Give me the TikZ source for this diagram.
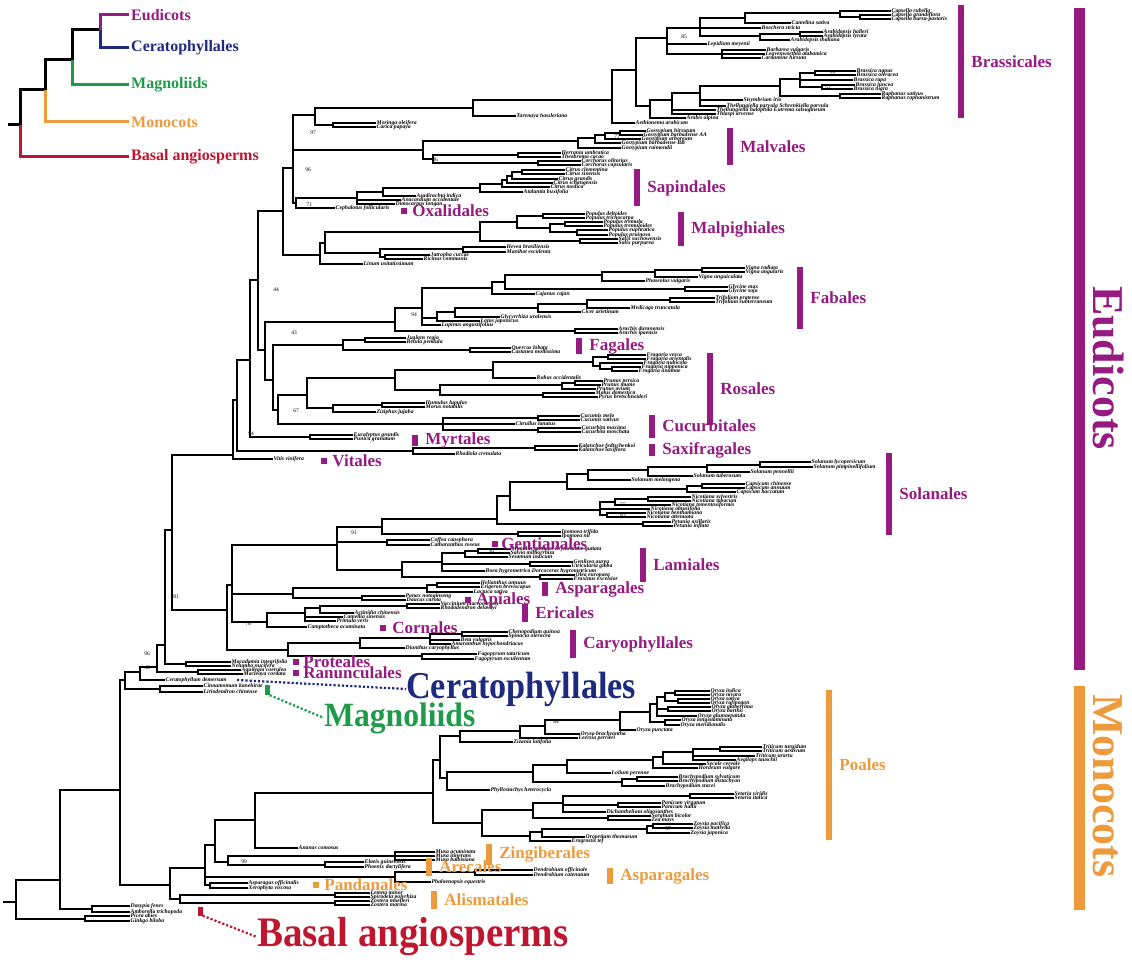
\documentclass[tikz,border=0pt]{standalone}
\usepackage{fontspec}
\setmainfont{Liberation Serif}
\usetikzlibrary{positioning}
\definecolor{phPurple}{HTML}{951B81}
\definecolor{phNavy}{HTML}{1D2A7D}
\definecolor{phGreen}{HTML}{1E9B48}
\definecolor{phOrange}{HTML}{EC9A3C}
\definecolor{phRed}{HTML}{C0152F}
\newcommand{\tipfont}{\fontsize{5.7}{6}\selectfont\bfseries\itshape}
\newcommand{\bsfont}{\fontsize{5.5}{6}\selectfont}
\tikzset{
  br/.style={draw=black, line width=1.1pt, line cap=rect},
  tip/.style={anchor=west, inner sep=1.5pt, font=\tipfont},
  bsv/.style={inner sep=0pt, font=\bsfont},
  mkE/.style={rectangle, fill=phPurple, inner sep=0pt, minimum width=6pt, minimum height=#1},
  mkM/.style={mkE=#1, fill=phOrange},
  ordE/.style={inner sep=0pt, text=phPurple, font=\fontsize{17}{17}\selectfont\bfseries},
  ordM/.style={ordE, text=phOrange},
  lgd/.style={line width=3pt},
  lgdtxt/.style={anchor=west, inner sep=2pt, font=\fontsize{16}{16}\selectfont\bfseries},
  bigtxt/.style={inner sep=0pt, anchor=west, font=\fontsize{38}{38}\selectfont\bfseries},
  dotcon/.style={line width=2.2pt, dotted},
}

\begin{document}
\begin{tikzpicture}[x=1pt, y=-1pt]
  \useasboundingbox (0,0) rectangle (1132,960);

  % legend
  \coordinate (lgR) at (8,125);
  \coordinate (lg1) at (20,125);
  \coordinate (lg2) at (45,90);
  \coordinate (lg3) at (72,60);
  \coordinate (lg4) at (100,30);
  \node[lgdtxt, text=phPurple] (lgEud) at (129,15) {Eudicots};
  \node[lgdtxt, text=phNavy] (lgCer) at (129,48) {Ceratophyllales};
  \node[lgdtxt, text=phGreen] (lgMag) at (129,85) {Magnoliids};
  \node[lgdtxt, text=phOrange] (lgMon) at (129,122) {Monocots};
  \node[lgdtxt, text=phRed] (lgBas) at (129,157) {Basal angiosperms};
  \draw[lgd] (lgR) -- (lg1) |- (lg2) |- (lg3) |- (lg4);
  \draw[lgd, phPurple] (lg4) |- (lgEud.west);
  \draw[lgd, phNavy] (lg4) |- (lgCer.west);
  \draw[lgd, phGreen] (lg3) |- (lgMag.west);
  \draw[lgd, phOrange] (lg2) |- (lgMon.west);
  \draw[lgd, phRed] (lg1) |- (lgBas.west);

  % Brassicales
  \node[tip] (tCapR) at (890,11) {Capsella rubella};
  \node[tip] (tCapG) at (890,15) {Capsella grandiflora};
  \node[tip] (tCapB) at (890,19) {Capsella bursa-pastoris};
  \node[tip] (tCame) at (790,23) {Camelina sativa};
  \node[tip] (tBoec) at (760,28) {Boechera stricta};
  \node[tip] (tArHa) at (822,32) {Arabidopsis halleri};
  \node[tip] (tArLy) at (822,36) {Arabidopsis lyrata};
  \node[tip] (tArTh) at (789,40) {Arabidopsis thaliana};
  \node[tip] (tLepi) at (706,44) {Lepidium meyenii};
  \node[tip] (tBarb) at (765,50) {Barbarea vulgaris};
  \node[tip] (tLeav) at (764,54) {Leavenworthia alabamica};
  \node[tip] (tCard) at (760,58) {Cardamine hirsuta};
  \node[tip] (tBnap) at (855,71) {Brassica napus};
  \node[tip] (tBole) at (855,75) {Brassica oleracea};
  \node[tip] (tBrap) at (852,80) {Brassica rapa};
  \node[tip] (tBjun) at (854,85) {Brassica juncea};
  \node[tip] (tBnig) at (852,89) {Brassica nigra};
  \node[tip] (tRsat) at (880,94) {Raphanus sativus};
  \node[tip] (tRrap) at (880,98) {Raphanus raphanistrum};
  \node[tip] (tSisy) at (742,100) {Sisymbrium irio};
  \node[tip] (tSchr) at (725,106) {Thellungiella parvula Schrenkiella parvula};
  \node[tip] (tEutr) at (715,110) {Thellungiella halophila Eutrema salsugineum};
  \node[tip] (tThla) at (715,114) {Thlaspi arvense};
  \node[tip] (tArab) at (685,118) {Arabis alpina};
  \node[tip] (tAeth) at (634,123) {Aethionema arabicum};
  \node[tip] (tTare) at (515,116) {Tarenaya hassleriana};
  \node[tip] (tMori) at (375,123) {Moringa oleifera};
  \node[tip] (tCari) at (375,127) {Carica papaya};
  \coordinate (Cap2) at (860,17);
  \coordinate (Cap1) at (840,13);
  \coordinate (Cm2) at (745,18);
  \coordinate (ArHL) at (800,34);
  \coordinate (ArabN) at (760,36);
  \coordinate (Cm1) at (700,28);
  \coordinate (BarbN) at (722,54);
  \coordinate (Up1) at (667,38);
  \coordinate (Bs1) at (815,73);
  \coordinate (Bs2) at (822,87);
  \coordinate (BsA) at (800,79);
  \coordinate (RaphN) at (840,96);
  \coordinate (BrN) at (780,86);
  \coordinate (Low3) at (700,93);
  \coordinate (Low2) at (672,100);
  \coordinate (Low1) at (650,106);
  \coordinate (B636) at (636,70);
  \coordinate (BrassN) at (612,100);
  \coordinate (BrCl) at (473,108);
  \coordinate (MCN) at (333,125);
  \coordinate (BM) at (315,115);
  \draw[br] (Cap2) |- (tCapG) (Cap2) |- (tCapB);
  \draw[br] (Cap1) |- (tCapR) (Cap1) |- (Cap2);
  \draw[br] (Cm2) |- (Cap1) (Cm2) |- (tCame);
  \draw[br] (ArHL) |- (tArHa) (ArHL) |- (tArLy);
  \draw[br] (ArabN) |- (ArHL) (ArabN) |- (tArTh);
  \draw[br] (Cm1) |- (Cm2) (Cm1) |- (tBoec) (Cm1) |- (ArabN);
  \draw[br] (BarbN) |- (tBarb) (BarbN) |- (tLeav) (BarbN) |- (tCard);
  \draw[br] (Up1) |- (Cm1) (Up1) |- (tLepi) (Up1) |- (BarbN);
  \draw[br] (Bs1) |- (tBnap) (Bs1) |- (tBole);
  \draw[br] (Bs2) |- (tBjun) (Bs2) |- (tBnig);
  \draw[br] (BsA) |- (Bs1) (BsA) |- (tBrap) (BsA) |- (Bs2);
  \draw[br] (RaphN) |- (tRsat) (RaphN) |- (tRrap);
  \draw[br] (BrN) |- (BsA) (BrN) |- (RaphN);
  \draw[br] (Low3) |- (BrN) (Low3) |- (tSisy) (Low3) |- (tSchr);
  \draw[br] (Low2) |- (Low3) (Low2) |- (tEutr) (Low2) |- (tThla);
  \draw[br] (Low1) |- (Low2) (Low1) |- (tArab);
  \draw[br] (B636) |- (Up1) (B636) |- (Low1);
  \draw[br] (BrassN) |- (B636) (BrassN) |- (tAeth);
  \draw[br] (BrCl) |- (BrassN) (BrCl) |- (tTare);
  \draw[br] (MCN) |- (tMori) (MCN) |- (tCari);
  \draw[br] (BM) |- (BrCl) (BM) |- (MCN);

  % Malvales
  \node[tip] (tGhir) at (645,131) {Gossypium hirsutum};
  \node[tip] (tGbAA) at (642,135) {Gossypium barbadense AA};
  \node[tip] (tGarb) at (640,139) {Gossypium arboreum};
  \node[tip] (tGbBB) at (620,143) {Gossypium barbadense BB};
  \node[tip] (tGrai) at (620,148) {Gossypium raimondii};
  \node[tip] (tHerr) at (560,153) {Herrania umbratica};
  \node[tip] (tTheo) at (560,157) {Theobroma cacao};
  \node[tip] (tColi) at (580,161) {Corchorus olitorius};
  \node[tip] (tCcap) at (580,165) {Corchorus capsularis};
  \coordinate (G3) at (620,133);
  \coordinate (G2) at (605,135);
  \coordinate (G1) at (595,138);
  \coordinate (GossN) at (578,141);
  \coordinate (HTN) at (518,155);
  \coordinate (CorN) at (538,163);
  \coordinate (HC) at (433,159);
  \coordinate (MalvN) at (423,150);
  \draw[br] (G3) |- (tGhir) (G3) |- (tGbAA);
  \draw[br] (G2) |- (G3) (G2) |- (tGarb);
  \draw[br] (G1) |- (G2) (G1) |- (tGbBB);
  \draw[br] (GossN) |- (G1) (GossN) |- (tGrai);
  \draw[br] (HTN) |- (tHerr) (HTN) |- (tTheo);
  \draw[br] (CorN) |- (tColi) (CorN) |- (tCcap);
  \draw[br] (HC) |- (HTN) (HC) |- (CorN);
  \draw[br] (MalvN) |- (GossN) (MalvN) |- (HC);

  % Sapindales, Oxalidales
  \node[tip] (tCcle) at (564,170) {Citrus clementina};
  \node[tip] (tCsin) at (564,174) {Citrus sinensis};
  \node[tip] (tCgra) at (557,179) {Citrus grandis};
  \node[tip] (tCich) at (552,183) {Citrus ichangensis};
  \node[tip] (tCmed) at (549,187) {Citrus medica};
  \node[tip] (tAtal) at (522,192) {Atalantia buxifolia};
  \node[tip] (tAzad) at (415,196) {Azadirachta indica};
  \node[tip] (tAnac) at (400,200) {Anacardium occidentale};
  \node[tip] (tDimo) at (394,204) {Dimocarpus longan};
  \node[tip] (tCeph) at (334,208) {Cephalotus follicularis};
  \coordinate (Ci1) at (522,172);
  \coordinate (Ci2) at (512,176);
  \coordinate (Ci3) at (507,180);
  \coordinate (Ci4) at (502,184);
  \coordinate (CitN) at (480,188);
  \coordinate (S1) at (383,192);
  \coordinate (SapN) at (357,198);
  \coordinate (SapOx) at (296,203);
  \coordinate (MalvidN) at (293,168);
  \draw[br] (Ci1) |- (tCcle) (Ci1) |- (tCsin);
  \draw[br] (Ci2) |- (Ci1) (Ci2) |- (tCgra);
  \draw[br] (Ci3) |- (Ci2) (Ci3) |- (tCich);
  \draw[br] (Ci4) |- (Ci3) (Ci4) |- (tCmed);
  \draw[br] (CitN) |- (Ci4) (CitN) |- (tAtal);
  \draw[br] (S1) |- (CitN) (S1) |- (tAzad);
  \draw[br] (SapN) |- (S1) (SapN) |- (tAnac) (SapN) |- (tDimo);
  \draw[br] (SapOx) |- (SapN) (SapOx) |- (tCeph);
  \draw[br] (MalvidN) |- (BM) (MalvidN) |- (MalvN) (MalvidN) |- (SapOx);

  % Malpighiales
  \node[tip] (tPdel) at (584,214) {Populus deltoides};
  \node[tip] (tPtri) at (584,218) {Populus trichocarpa};
  \node[tip] (tPtre) at (602,222) {Populus tremula};
  \node[tip] (tPtrd) at (602,226) {Populus tremuloides};
  \node[tip] (tPeup) at (607,230) {Populus euphratica};
  \node[tip] (tPpru) at (607,235) {Populus pruinosa};
  \node[tip] (tSsuc) at (617,239) {Salix suchowensis};
  \node[tip] (tSpur) at (617,243) {Salix purpurea};
  \node[tip] (tHeve) at (505,247) {Hevea brasiliensis};
  \node[tip] (tMani) at (505,252) {Manihot esculenta};
  \node[tip] (tJatr) at (429,255) {Jatropha curcas};
  \node[tip] (tRici) at (422,259) {Ricinus communis};
  \node[tip] (tLinu) at (362,264) {Linum usitatissimum};
  \coordinate (P1) at (543,216);
  \coordinate (P2) at (565,224);
  \coordinate (P3) at (577,232);
  \coordinate (Pa) at (550,228);
  \coordinate (PopN) at (517,222);
  \coordinate (SalixN) at (580,241);
  \coordinate (SalicN) at (480,232);
  \coordinate (HMN) at (463,249);
  \coordinate (JRN) at (385,257);
  \coordinate (EuphN) at (380,253);
  \coordinate (Mp1) at (325,243);
  \coordinate (MalpN) at (320,255);
  \coordinate (RosidA) at (283,211);
  \draw[br] (P1) |- (tPdel) (P1) |- (tPtri);
  \draw[br] (P2) |- (tPtre) (P2) |- (tPtrd);
  \draw[br] (P3) |- (tPeup) (P3) |- (tPpru);
  \draw[br] (Pa) |- (P2) (Pa) |- (P3);
  \draw[br] (PopN) |- (P1) (PopN) |- (Pa);
  \draw[br] (SalixN) |- (tSsuc) (SalixN) |- (tSpur);
  \draw[br] (SalicN) |- (PopN) (SalicN) |- (SalixN);
  \draw[br] (HMN) |- (tHeve) (HMN) |- (tMani);
  \draw[br] (JRN) |- (tJatr) (JRN) |- (tRici);
  \draw[br] (EuphN) |- (HMN) (EuphN) |- (JRN);
  \draw[br] (Mp1) |- (SalicN) (Mp1) |- (EuphN);
  \draw[br] (MalpN) |- (Mp1) (MalpN) |- (tLinu);
  \draw[br] (RosidA) |- (MalvidN) (RosidA) |- (MalpN);

  % Fabales
  \node[tip] (tVrad) at (744,268) {Vigna radiata};
  \node[tip] (tVang) at (744,272) {Vigna angularis};
  \node[tip] (tVung) at (697,277) {Vigna unguiculata};
  \node[tip] (tPhas) at (644,281) {Phaseolus vulgaris};
  \node[tip] (tGmax) at (727,287) {Glycine max};
  \node[tip] (tGsoj) at (727,291) {Glycine soja};
  \node[tip] (tCaja) at (534,294) {Cajanus cajan};
  \node[tip] (tTpra) at (714,298) {Trifolium pratense};
  \node[tip] (tTsub) at (714,302) {Trifolium subterraneum};
  \node[tip] (tMedi) at (629,308) {Medicago truncatula};
  \node[tip] (tCice) at (580,312) {Cicer arietinum};
  \node[tip] (tGlyc) at (499,317) {Glycyrrhiza uralensis};
  \node[tip] (tLotu) at (479,321) {Lotus japonicus};
  \node[tip] (tLupi) at (440,325) {Lupinus angustifolius};
  \node[tip] (tAdur) at (617,329) {Arachis duranensis};
  \node[tip] (tAipa) at (617,333) {Arachis ipaensis};
  \coordinate (VrVaN) at (702,270);
  \coordinate (VignaN) at (655,272);
  \coordinate (PhN) at (602,275);
  \coordinate (GlyN) at (685,289);
  \coordinate (Fa7) at (505,282);
  \coordinate (Fa2) at (492,288);
  \coordinate (TrifN) at (670,300);
  \coordinate (Fa6) at (587,304);
  \coordinate (Fa5) at (538,308);
  \coordinate (Fa4) at (455,312);
  \coordinate (Fa3) at (437,318);
  \coordinate (Fa1) at (422,308);
  \coordinate (ArachN) at (575,331);
  \coordinate (FabN) at (395,322);
  \draw[br] (VrVaN) |- (tVrad) (VrVaN) |- (tVang);
  \draw[br] (VignaN) |- (VrVaN) (VignaN) |- (tVung);
  \draw[br] (PhN) |- (VignaN) (PhN) |- (tPhas);
  \draw[br] (GlyN) |- (tGmax) (GlyN) |- (tGsoj);
  \draw[br] (Fa7) |- (PhN) (Fa7) |- (GlyN);
  \draw[br] (Fa2) |- (Fa7) (Fa2) |- (tCaja);
  \draw[br] (TrifN) |- (tTpra) (TrifN) |- (tTsub);
  \draw[br] (Fa6) |- (TrifN) (Fa6) |- (tMedi);
  \draw[br] (Fa5) |- (Fa6) (Fa5) |- (tCice);
  \draw[br] (Fa4) |- (Fa5) (Fa4) |- (tGlyc);
  \draw[br] (Fa3) |- (Fa4) (Fa3) |- (tLotu);
  \draw[br] (Fa1) |- (Fa2) (Fa1) |- (Fa3) (Fa1) |- (tLupi);
  \draw[br] (ArachN) |- (tAdur) (ArachN) |- (tAipa);
  \draw[br] (FabN) |- (Fa1) (FabN) |- (ArachN);

  % Fagales, Rosales, Cucurbitales
  \node[tip] (tJugl) at (405,338) {Juglans regia};
  \node[tip] (tBetu) at (405,342) {Betula pendula};
  \node[tip] (tQuer) at (510,348) {Quercus lobata};
  \node[tip] (tCast) at (510,352) {Castanea mollissima};
  \node[tip] (tFves) at (645,355) {Fragaria vesca};
  \node[tip] (tFori) at (645,359) {Fragaria orientalis};
  \node[tip] (tFnub) at (642,363) {Fragaria nubicola};
  \node[tip] (tFnip) at (640,367) {Fragaria nipponica};
  \node[tip] (tFiin) at (637,371) {Fragaria iinumae};
  \node[tip] (tRubu) at (535,378) {Rubus occidentalis};
  \node[tip] (tPper) at (602,381) {Prunus persica};
  \node[tip] (tPmum) at (600,385) {Prunus mume};
  \node[tip] (tPavi) at (595,389) {Prunus avium};
  \node[tip] (tMalu) at (594,393) {Malus domestica};
  \node[tip] (tPyru) at (597,397) {Pyrus bretschneideri};
  \node[tip] (tHumu) at (424,403) {Humulus lupulus};
  \node[tip] (tMoru) at (424,407) {Morus notabilis};
  \node[tip] (tZizi) at (375,412) {Ziziphus jujuba};
  \node[tip] (tCmel) at (579,416) {Cucumis melo};
  \node[tip] (tCsat) at (579,420) {Cucumis sativus};
  \node[tip] (tCitr) at (514,424) {Citrullus lanatus};
  \node[tip] (tCmax) at (580,428) {Cucurbita maxima};
  \node[tip] (tCmos) at (580,432) {Cucurbita moschata};
  \coordinate (JBN) at (365,340);
  \coordinate (QCN) at (470,350);
  \coordinate (FagN) at (343,345);
  \coordinate (Fr1) at (608,357);
  \coordinate (Fr2) at (612,369);
  \coordinate (Fr3) at (600,366);
  \coordinate (FragN) at (593,362);
  \coordinate (Ro2) at (493,370);
  \coordinate (PrA) at (575,383);
  \coordinate (PrunN) at (562,385);
  \coordinate (MPN) at (543,395);
  \coordinate (Ro3) at (440,390);
  \coordinate (Ro1) at (395,378);
  \coordinate (HMoN) at (382,405);
  \coordinate (Ro4) at (333,408);
  \coordinate (RosN) at (307,395);
  \coordinate (CmN) at (538,418);
  \coordinate (CbN) at (538,430);
  \coordinate (CucurbN) at (443,424);
  \draw[br] (JBN) |- (tJugl) (JBN) |- (tBetu);
  \draw[br] (QCN) |- (tQuer) (QCN) |- (tCast);
  \draw[br] (FagN) |- (JBN) (FagN) |- (QCN);
  \draw[br] (Fr1) |- (tFves) (Fr1) |- (tFori);
  \draw[br] (Fr2) |- (tFnip) (Fr2) |- (tFiin);
  \draw[br] (Fr3) |- (tFnub) (Fr3) |- (Fr2);
  \draw[br] (FragN) |- (Fr1) (FragN) |- (Fr3);
  \draw[br] (Ro2) |- (FragN) (Ro2) |- (tRubu);
  \draw[br] (PrA) |- (tPper) (PrA) |- (tPmum);
  \draw[br] (PrunN) |- (PrA) (PrunN) |- (tPavi);
  \draw[br] (MPN) |- (tMalu) (MPN) |- (tPyru);
  \draw[br] (Ro3) |- (PrunN) (Ro3) |- (MPN);
  \draw[br] (Ro1) |- (Ro2) (Ro1) |- (Ro3);
  \draw[br] (HMoN) |- (tHumu) (HMoN) |- (tMoru);
  \draw[br] (Ro4) |- (HMoN) (Ro4) |- (tZizi);
  \draw[br] (RosN) |- (Ro1) (RosN) |- (Ro4);
  \draw[br] (CmN) |- (tCmel) (CmN) |- (tCsat);
  \draw[br] (CbN) |- (tCmax) (CbN) |- (tCmos);
  \draw[br] (CucurbN) |- (CmN) (CucurbN) |- (tCitr) (CucurbN) |- (CbN);

  % rosid backbone, Myrtales, Saxifragales, Vitales
  \node[tip] (tEuca) at (352,435) {Eucalyptus grandis};
  \node[tip] (tPuni) at (352,439) {Punica granatum};
  \node[tip] (tKfed) at (577,446) {Kalanchoe fedtschenkoi};
  \node[tip] (tKlax) at (577,450) {Kalanchoe laxiflora};
  \node[tip] (tRhod) at (454,454) {Rhodiola crenulata};
  \node[tip] (tViti) at (272,459) {Vitis vinifera};
  \coordinate (F1) at (278,410);
  \coordinate (F2) at (273,380);
  \coordinate (F3) at (265,350);
  \coordinate (R1) at (258,280);
  \coordinate (MyrtN) at (310,437);
  \coordinate (R2) at (250,360);
  \coordinate (KalN) at (535,448);
  \coordinate (SaxN) at (413,451);
  \coordinate (R3) at (237,400);
  \coordinate (RosV) at (233,455);
  \draw[br] (F1) |- (RosN) (F1) |- (CucurbN);
  \draw[br] (F2) |- (FagN) (F2) |- (F1);
  \draw[br] (F3) |- (FabN) (F3) |- (F2);
  \draw[br] (R1) |- (RosidA) (R1) |- (F3);
  \draw[br] (MyrtN) |- (tEuca) (MyrtN) |- (tPuni);
  \draw[br] (R2) |- (R1) (R2) |- (MyrtN);
  \draw[br] (KalN) |- (tKfed) (KalN) |- (tKlax);
  \draw[br] (SaxN) |- (KalN) (SaxN) |- (tRhod);
  \draw[br] (R3) |- (R2) (R3) |- (SaxN);
  \draw[br] (RosV) |- (R3) (RosV) |- (tViti);

  % Solanales
  \node[tip] (tSlyc) at (810,462) {Solanum lycopersicum};
  \node[tip] (tSpim) at (812,467) {Solanum pimpinellifolium};
  \node[tip] (tSpen) at (749,472) {Solanum pennellii};
  \node[tip] (tStub) at (692,476) {Solanum tuberosum};
  \node[tip] (tSmel) at (630,480) {Solanum melongena};
  \node[tip] (tCchi) at (744,484) {Capsicum chinense};
  \node[tip] (tCann) at (744,488) {Capsicum annuum};
  \node[tip] (tCbac) at (735,492) {Capsicum baccatum};
  \node[tip] (tNsyl) at (690,497) {Nicotiana sylvestris};
  \node[tip] (tNtab) at (690,501) {Nicotiana tabacum};
  \node[tip] (tNtom) at (670,505) {Nicotiana tomentosiformis};
  \node[tip] (tNobt) at (649,509) {Nicotiana obtusifolia};
  \node[tip] (tNben) at (645,513) {Nicotiana benthamiana};
  \node[tip] (tNatt) at (645,517) {Nicotiana attenuata};
  \node[tip] (tPaxi) at (670,522) {Petunia axillaris};
  \node[tip] (tPinf) at (672,526) {Petunia inflata};
  \node[tip] (tItri) at (560,532) {Ipomoea trifida};
  \node[tip] (tInil) at (560,536) {Ipomoea nil};
  \coordinate (Sd) at (760,465);
  \coordinate (Sc) at (707,467);
  \coordinate (Sb) at (648,470);
  \coordinate (Sa) at (588,474);
  \coordinate (CapA) at (702,486);
  \coordinate (CapN) at (687,489);
  \coordinate (SolB) at (567,482);
  \coordinate (Nc3) at (648,499);
  \coordinate (Nc1) at (615,502);
  \coordinate (Nc2) at (607,515);
  \coordinate (NicN) at (600,510);
  \coordinate (SolA) at (510,496);
  \coordinate (PetN) at (643,524);
  \coordinate (SolRoot) at (497,519);
  \coordinate (IpoN) at (518,534);
  \coordinate (SolanN) at (382,527);
  \draw[br] (Sd) |- (tSlyc) (Sd) |- (tSpim);
  \draw[br] (Sc) |- (Sd) (Sc) |- (tSpen);
  \draw[br] (Sb) |- (Sc) (Sb) |- (tStub);
  \draw[br] (Sa) |- (Sb) (Sa) |- (tSmel);
  \draw[br] (CapA) |- (tCchi) (CapA) |- (tCann);
  \draw[br] (CapN) |- (CapA) (CapN) |- (tCbac);
  \draw[br] (SolB) |- (Sa) (SolB) |- (CapN);
  \draw[br] (Nc3) |- (tNsyl) (Nc3) |- (tNtab);
  \draw[br] (Nc1) |- (Nc3) (Nc1) |- (tNtom);
  \draw[br] (Nc2) |- (tNben) (Nc2) |- (tNatt);
  \draw[br] (NicN) |- (Nc1) (NicN) |- (tNobt) (NicN) |- (Nc2);
  \draw[br] (SolA) |- (SolB) (SolA) |- (NicN);
  \draw[br] (PetN) |- (tPaxi) (PetN) |- (tPinf);
  \draw[br] (SolRoot) |- (SolA) (SolRoot) |- (PetN);
  \draw[br] (IpoN) |- (tItri) (IpoN) |- (tInil);
  \draw[br] (SolanN) |- (SolRoot) (SolanN) |- (IpoN);

  % Gentianales, Lamiales
  \node[tip] (tCoff) at (429,540) {Coffea canephora};
  \node[tip] (tCath) at (429,545) {Catharanthus roseus};
  \node[tip] (tMimu) at (510,549) {Mimulus guttatus Erythranthe guttata};
  \node[tip] (tSalv) at (509,553) {Salvia miltiorrhiza};
  \node[tip] (tSesa) at (507,557) {Sesamum indicum};
  \node[tip] (tGenl) at (572,562) {Genlisea aurea};
  \node[tip] (tUtri) at (570,566) {Utricularia gibba};
  \node[tip] (tBoea) at (484,571) {Boea hygrometrica Dorcoceras hygrometricum};
  \node[tip] (tOlea) at (574,575) {Olea europaea};
  \node[tip] (tFrax) at (572,579) {Fraxinus excelsior};
  \coordinate (GentN) at (387,542);
  \coordinate (La3) at (478,551);
  \coordinate (La2) at (465,553);
  \coordinate (LenN) at (530,564);
  \coordinate (La1) at (442,562);
  \coordinate (OleaN) at (540,577);
  \coordinate (LamN) at (402,570);
  \coordinate (LamiN) at (337,545);
  \draw[br] (GentN) |- (tCoff) (GentN) |- (tCath);
  \draw[br] (La3) |- (tMimu) (La3) |- (tSalv);
  \draw[br] (La2) |- (La3) (La2) |- (tSesa);
  \draw[br] (LenN) |- (tGenl) (LenN) |- (tUtri);
  \draw[br] (La1) |- (La2) (La1) |- (LenN) (La1) |- (tBoea);
  \draw[br] (OleaN) |- (tOlea) (OleaN) |- (tFrax);
  \draw[br] (LamN) |- (La1) (LamN) |- (OleaN);
  \draw[br] (LamiN) |- (SolanN) (LamiN) |- (GentN) (LamiN) |- (LamN);

  % campanulids, Ericales, Cornales, Caryophyllales
  \node[tip] (tHeli) at (479,583) {Helianthus annuus};
  \node[tip] (tErig) at (479,587) {Erigeron breviscapus};
  \node[tip] (tLact) at (472,592) {Lactuca sativa};
  \node[tip] (tPana) at (404,596) {Panax notoginseng};
  \node[tip] (tDauc) at (405,600) {Daucus carota};
  \node[tip] (tVacc) at (439,604) {Vaccinium macrocarpon};
  \node[tip] (tRhdo) at (439,608) {Rhododendron delavayi};
  \node[tip] (tActi) at (353,613) {Actinidia chinensis};
  \node[tip] (tCaml) at (342,617) {Camellia sinensis};
  \node[tip] (tPrim) at (335,621) {Primula veris};
  \node[tip] (tCamp) at (306,627) {Camptotheca acuminata};
  \node[tip] (tChen) at (507,632) {Chenopodium quinoa};
  \node[tip] (tSpin) at (507,636) {Spinacia oleracea};
  \node[tip] (tBeta) at (459,640) {Beta vulgaris};
  \node[tip] (tAmar) at (450,644) {Amaranthus hypochondriacus};
  \node[tip] (tDian) at (404,648) {Dianthus caryophyllus};
  \node[tip] (tFtat) at (476,654) {Fagopyrum tataricum};
  \node[tip] (tFesc) at (473,659) {Fagopyrum esculentum};
  \coordinate (HEN) at (437,585);
  \coordinate (AstN2) at (427,588);
  \coordinate (ApiN) at (362,598);
  \coordinate (CampN) at (293,594);
  \coordinate (VRN) at (407,606);
  \coordinate (Er2) at (320,608);
  \coordinate (Er1) at (305,613);
  \coordinate (CEN) at (267,622);
  \coordinate (AstN) at (232,585);
  \coordinate (ChSpN) at (462,634);
  \coordinate (Ca2) at (430,638);
  \coordinate (Ca1) at (360,643);
  \coordinate (FagoN) at (422,656);
  \coordinate (CaryN) at (288,650);
  \coordinate (SupAst) at (227,610);
  \draw[br] (HEN) |- (tHeli) (HEN) |- (tErig);
  \draw[br] (AstN2) |- (HEN) (AstN2) |- (tLact);
  \draw[br] (ApiN) |- (tPana) (ApiN) |- (tDauc);
  \draw[br] (CampN) |- (AstN2) (CampN) |- (ApiN);
  \draw[br] (VRN) |- (tVacc) (VRN) |- (tRhdo);
  \draw[br] (Er2) |- (VRN) (Er2) |- (tActi);
  \draw[br] (Er1) |- (Er2) (Er1) |- (tCaml) (Er1) |- (tPrim);
  \draw[br] (CEN) |- (Er1) (CEN) |- (tCamp);
  \draw[br] (AstN) |- (LamiN) (AstN) |- (CampN) (AstN) |- (CEN);
  \draw[br] (ChSpN) |- (tChen) (ChSpN) |- (tSpin);
  \draw[br] (Ca2) |- (ChSpN) (Ca2) |- (tBeta) (Ca2) |- (tAmar);
  \draw[br] (Ca1) |- (Ca2) (Ca1) |- (tDian);
  \draw[br] (FagoN) |- (tFtat) (FagoN) |- (tFesc);
  \draw[br] (CaryN) |- (Ca1) (CaryN) |- (FagoN);
  \draw[br] (SupAst) |- (AstN) (SupAst) |- (CaryN);

  % early eudicots, Ceratophyllum, magnoliids
  \node[tip] (tMaca) at (230,662) {Macadamia integrifolia};
  \node[tip] (tNelu) at (230,666) {Nelumbo nucifera};
  \node[tip] (tAqui) at (240,670) {Aquilegia coerulea};
  \node[tip] (tMacl) at (242,674) {Macleaya cordata};
  \node[tip] (tCera) at (164,680) {Ceratophyllum demersum};
  \node[tip] (tCinn) at (202,686) {Cinnamomum kanehirae};
  \node[tip] (tLiri) at (202,692) {Liriodendron chinense};
  \coordinate (CoreE) at (172,530);
  \coordinate (ProtN) at (186,664);
  \coordinate (E2) at (165,645);
  \coordinate (RanN) at (198,672);
  \coordinate (EudN) at (157,667);
  \coordinate (EudCer) at (140,672);
  \coordinate (MagN) at (160,689);
  \coordinate (EM) at (125,680);
  \draw[br] (CoreE) |- (RosV) (CoreE) |- (SupAst);
  \draw[br] (ProtN) |- (tMaca) (ProtN) |- (tNelu);
  \draw[br] (E2) |- (CoreE) (E2) |- (ProtN);
  \draw[br] (RanN) |- (tAqui) (RanN) |- (tMacl);
  \draw[br] (EudN) |- (E2) (EudN) |- (RanN);
  \draw[br] (EudCer) |- (EudN) (EudCer) |- (tCera);
  \draw[br] (MagN) |- (tCinn) (MagN) |- (tLiri);
  \draw[br] (EM) |- (EudCer) (EM) |- (MagN);

  % Poales
  \node[tip] (tOind) at (709,691) {Oryza indica};
  \node[tip] (tOniv) at (709,695) {Oryza nivara};
  \node[tip] (tOsat) at (709,699) {Oryza sativa};
  \node[tip] (tOruf) at (709,703) {Oryza rufipogon};
  \node[tip] (tOgla) at (710,707) {Oryza glaberrima};
  \node[tip] (tObar) at (710,711) {Oryza barthii};
  \node[tip] (tOglu) at (696,716) {Oryza glumaepatula};
  \node[tip] (tOlon) at (680,720) {Oryza longistaminata};
  \node[tip] (tOmer) at (679,725) {Oryza meridionalis};
  \node[tip] (tOpun) at (635,730) {Oryza punctata};
  \node[tip] (tObra) at (579,734) {Oryza brachyantha};
  \node[tip] (tLeer) at (577,738) {Leersia perrieri};
  \node[tip] (tZiza) at (512,742) {Zizania latifolia};
  \node[tip] (tTtur) at (761,747) {Triticum turgidum};
  \node[tip] (tTaes) at (761,751) {Triticum aestivum};
  \node[tip] (tTura) at (754,756) {Triticum urartu};
  \node[tip] (tAegi) at (735,760) {Aegilops tauschii};
  \node[tip] (tSeca) at (705,764) {Secale cereale};
  \node[tip] (tHord) at (697,768) {Hordeum vulgare};
  \node[tip] (tLoli) at (610,773) {Lolium perenne};
  \node[tip] (tBsyl) at (677,777) {Brachypodium sylvaticum};
  \node[tip] (tBdis) at (677,781) {Brachypodium distachyon};
  \node[tip] (tBsta) at (664,786) {Brachypodium stacei};
  \node[tip] (tPhyl) at (489,790) {Phyllostachys heterocycla};
  \node[tip] (tSvir) at (733,794) {Setaria viridis};
  \node[tip] (tSita) at (733,798) {Setaria italica};
  \node[tip] (tPvir) at (660,803) {Panicum virgatum};
  \node[tip] (tPhal) at (660,807) {Panicum hallii};
  \node[tip] (tDich) at (605,812) {Dichanthelium oligosanthes};
  \node[tip] (tSbic) at (650,816) {Sorghum bicolor};
  \node[tip] (tZmay) at (650,820) {Zea mays};
  \node[tip] (tZpac) at (692,824) {Zoysia pacifica};
  \node[tip] (tZmat) at (692,828) {Zoysia matrella};
  \node[tip] (tZjap) at (689,833) {Zoysia japonica};
  \node[tip] (tOrop) at (584,837) {Oropetium thomaeum};
  \node[tip] (tErag) at (570,841) {Eragrostis tef};
  \node[tip] (tAnan) at (297,848) {Ananas comosus};
  \coordinate (Or1a) at (675,693);
  \coordinate (Or1b) at (678,701);
  \coordinate (Or1) at (665,697);
  \coordinate (Or2) at (668,709);
  \coordinate (Or3) at (657,704);
  \coordinate (Or45) at (665,722);
  \coordinate (Or4) at (650,712);
  \coordinate (Or5) at (620,720);
  \coordinate (Or6) at (545,726);
  \coordinate (Oz2) at (520,731);
  \coordinate (OzN) at (460,736);
  \coordinate (Tr3) at (720,749);
  \coordinate (Tr2) at (693,752);
  \coordinate (Tr1) at (663,757);
  \coordinate (TrN) at (653,760);
  \coordinate (Po1) at (567,765);
  \coordinate (Bra1) at (637,779);
  \coordinate (BrachyN) at (622,782);
  \coordinate (PooN) at (533,772);
  \coordinate (PBN) at (447,778);
  \coordinate (BOPN) at (440,760);
  \coordinate (SetN) at (690,796);
  \coordinate (PanicN) at (618,805);
  \coordinate (Pa1) at (563,803);
  \coordinate (SZN) at (608,818);
  \coordinate (PanN) at (533,810);
  \coordinate (Zpm) at (653,826);
  \coordinate (ZoyN) at (647,829);
  \coordinate (Ch1) at (542,832);
  \coordinate (ChlN) at (530,836);
  \coordinate (PACN) at (482,823);
  \coordinate (GrN) at (433,793);
  \coordinate (PoalesN) at (255,820);
  \draw[br] (Or1a) |- (tOind) (Or1a) |- (tOniv);
  \draw[br] (Or1b) |- (tOsat) (Or1b) |- (tOruf);
  \draw[br] (Or1) |- (Or1a) (Or1) |- (Or1b);
  \draw[br] (Or2) |- (tOgla) (Or2) |- (tObar);
  \draw[br] (Or3) |- (Or1) (Or3) |- (Or2) (Or3) |- (tOglu);
  \draw[br] (Or45) |- (tOlon) (Or45) |- (tOmer);
  \draw[br] (Or4) |- (Or3) (Or4) |- (Or45);
  \draw[br] (Or5) |- (Or4) (Or5) |- (tOpun);
  \draw[br] (Or6) |- (Or5) (Or6) |- (tObra);
  \draw[br] (Oz2) |- (Or6) (Oz2) |- (tLeer);
  \draw[br] (OzN) |- (Oz2) (OzN) |- (tZiza);
  \draw[br] (Tr3) |- (tTtur) (Tr3) |- (tTaes);
  \draw[br] (Tr2) |- (Tr3) (Tr2) |- (tTura) (Tr2) |- (tAegi);
  \draw[br] (Tr1) |- (Tr2) (Tr1) |- (tSeca);
  \draw[br] (TrN) |- (Tr1) (TrN) |- (tHord);
  \draw[br] (Po1) |- (TrN) (Po1) |- (tLoli);
  \draw[br] (Bra1) |- (tBsyl) (Bra1) |- (tBdis);
  \draw[br] (BrachyN) |- (Bra1) (BrachyN) |- (tBsta);
  \draw[br] (PooN) |- (Po1) (PooN) |- (BrachyN);
  \draw[br] (PBN) |- (PooN) (PBN) |- (tPhyl);
  \draw[br] (BOPN) |- (OzN) (BOPN) |- (PBN);
  \draw[br] (SetN) |- (tSvir) (SetN) |- (tSita);
  \draw[br] (PanicN) |- (tPvir) (PanicN) |- (tPhal);
  \draw[br] (Pa1) |- (SetN) (Pa1) |- (PanicN) (Pa1) |- (tDich);
  \draw[br] (SZN) |- (tSbic) (SZN) |- (tZmay);
  \draw[br] (PanN) |- (Pa1) (PanN) |- (SZN);
  \draw[br] (Zpm) |- (tZpac) (Zpm) |- (tZmat);
  \draw[br] (ZoyN) |- (Zpm) (ZoyN) |- (tZjap);
  \draw[br] (Ch1) |- (ZoyN) (Ch1) |- (tOrop);
  \draw[br] (ChlN) |- (Ch1) (ChlN) |- (tErag);
  \draw[br] (PACN) |- (PanN) (PACN) |- (ChlN);
  \draw[br] (GrN) |- (BOPN) (GrN) |- (PACN);
  \draw[br] (PoalesN) |- (GrN) (PoalesN) |- (tAnan);

  % other monocots
  \node[tip] (tMacu) at (434,852) {Musa acuminata};
  \node[tip] (tMiti) at (434,856) {Musa itinerans};
  \node[tip] (tMbal) at (434,860) {Musa balbisiana};
  \node[tip] (tElae) at (363,862) {Elaeis guineensis};
  \node[tip] (tPhoe) at (363,867) {Phoenix dactylifera};
  \node[tip] (tDoff) at (532,870) {Dendrobium officinale};
  \node[tip] (tDcat) at (532,875) {Dendrobium catenatum};
  \node[tip] (tPheq) at (430,882) {Phalaenopsis equestris};
  \node[tip] (tAspa) at (247,883) {Asparagus officinalis};
  \node[tip] (tXero) at (247,888) {Xerophyta viscosa};
  \node[tip] (tLemn) at (369,893) {Lemna minor};
  \node[tip] (tSpir) at (369,897) {Spirodela polyrhiza};
  \node[tip] (tZmue) at (369,901) {Zostera muelleri};
  \node[tip] (tZmar) at (369,905) {Zostera marina};
  \coordinate (ZingN) at (395,856);
  \coordinate (ArecN) at (325,865);
  \coordinate (ZAN) at (228,862);
  \coordinate (CommN) at (215,845);
  \coordinate (DendN) at (475,872);
  \coordinate (AspN) at (395,877);
  \coordinate (PanN2) at (210,885);
  \coordinate (M2) at (205,868);
  \coordinate (LSN) at (335,895);
  \coordinate (ZosN) at (335,903);
  \coordinate (AlisN) at (180,899);
  \coordinate (MonoN) at (170,885);
  \draw[br] (ZingN) |- (tMacu) (ZingN) |- (tMiti) (ZingN) |- (tMbal);
  \draw[br] (ArecN) |- (tElae) (ArecN) |- (tPhoe);
  \draw[br] (ZAN) |- (ZingN) (ZAN) |- (ArecN);
  \draw[br] (CommN) |- (PoalesN) (CommN) |- (ZAN);
  \draw[br] (DendN) |- (tDoff) (DendN) |- (tDcat);
  \draw[br] (AspN) |- (DendN) (AspN) |- (tPheq);
  \draw[br] (PanN2) |- (tAspa) (PanN2) |- (tXero);
  \draw[br] (M2) |- (CommN) (M2) |- (AspN) (M2) |- (PanN2);
  \draw[br] (LSN) |- (tLemn) (LSN) |- (tSpir);
  \draw[br] (ZosN) |- (tZmue) (ZosN) |- (tZmar);
  \draw[br] (AlisN) |- (LSN) (AlisN) |- (ZosN);
  \draw[br] (MonoN) |- (M2) (MonoN) |- (AlisN);

  % base of the tree
  \node[tip] (tDasy) at (129,906) {Dasypia fenes};
  \node[tip] (tAmbo) at (129,912) {Amborella trichopoda};
  \node[tip] (tPice) at (129,916) {Picea abies};
  \node[tip] (tGink) at (129,921) {Ginkgo biloba};
  \coordinate (MesN) at (120,790);
  \coordinate (AmbN) at (92,909);
  \coordinate (AngN) at (60,880);
  \coordinate (GymN) at (85,919);
  \coordinate (RootN) at (16,902);
  \coordinate (RootS) at (4,902);
  \draw[br] (MesN) |- (EM) (MesN) |- (MonoN);
  \draw[br] (AmbN) |- (tDasy) (AmbN) |- (tAmbo);
  \draw[br] (AngN) |- (MesN) (AngN) |- (AmbN);
  \draw[br] (GymN) |- (tPice) (GymN) |- (tGink);
  \draw[br] (RootN) |- (AngN) (RootN) |- (GymN);
  \draw[br] (RootS) -- (RootN);

  % support values
  \node[bsv] (b85) at (684,37) {85};
  \node[bsv] (b55a) at (833,75) {55};
  \node[bsv] (b52a) at (828,88) {52};
  \node[bsv] (b97) at (313,133) {97};
  \node[bsv] (b77) at (617,137) {77};
  \node[bsv] (b86) at (435,160) {86};
  \node[bsv] (b96a) at (308,170) {96};
  \node[bsv] (b71) at (309,205) {71};
  \node[bsv] (b44) at (276,290) {44};
  \node[bsv] (b94a) at (414,315) {94};
  \node[bsv] (b43) at (294,333) {43};
  \node[bsv] (b67) at (296,411) {67};
  \node[bsv] (b94b) at (251,434) {94};
  \node[bsv] (b55b) at (623,505) {55};
  \node[bsv] (b83) at (623,516) {83};
  \node[bsv] (b91) at (354,533) {91};
  \node[bsv] (b39) at (491,552) {39};
  \node[bsv] (b76) at (248,624) {76};
  \node[bsv] (b81) at (176,597) {81};
  \node[bsv] (b96b) at (147,654) {96};
  \node[bsv] (b48) at (147,668) {48};
  \node[bsv] (b84) at (556,722) {84};
  \node[bsv] (b57) at (668,829) {57};
  \node[bsv] (b99) at (244,862) {99};

  % order markers, eudicots
  \node[mkE=113pt] (mBras) at (961,62) {};
  \node[ordE, right=7pt of mBras] {Brassicales};
  \node[mkE=37pt] (mMalv) at (730,147) {};
  \node[ordE, right=7pt of mMalv] {Malvales};
  \node[mkE=37pt] (mSapi) at (637,188) {};
  \node[ordE, right=7pt of mSapi] {Sapindales};
  \node[mkE=6pt] (mOxal) at (404,211) {};
  \node[ordE, right=5pt of mOxal] {Oxalidales};
  \node[mkE=34pt] (mMalp) at (681,229) {};
  \node[ordE, right=7pt of mMalp] {Malpighiales};
  \node[mkE=62pt] (mFaba) at (800,298) {};
  \node[ordE, right=7pt of mFaba] {Fabales};
  \node[mkE=16pt] (mFaga) at (579,346) {};
  \node[ordE, right=7pt of mFaga] {Fagales};
  \node[mkE=72pt] (mRosa) at (710,389) {};
  \node[ordE, right=7pt of mRosa] {Rosales};
  \node[mkE=23pt] (mCucu) at (652,426) {};
  \node[ordE, right=7pt of mCucu] {Cucurbitales};
  \node[mkE=12pt] (mSaxi) at (652,450) {};
  \node[ordE, right=7pt of mSaxi] {Saxifragales};
  \node[mkE=11pt] (mMyrt) at (415,440) {};
  \node[ordE, right=7pt of mMyrt] {Myrtales};
  \node[mkE=6pt] (mVita) at (324,461) {};
  \node[ordE, right=5pt of mVita] {Vitales};
  \node[mkE=82pt] (mSola) at (889,494) {};
  \node[ordE, right=7pt of mSola] {Solanales};
  \node[mkE=6pt] (mGent) at (495,544) {};
  \node[ordE, right=3pt of mGent] {Gentianales};
  \node[mkE=34pt] (mLami) at (643,565) {};
  \node[ordE, right=7pt of mLami] {Lamiales};
  \node[mkE=14pt] (mAspE) at (545,589) {};
  \node[ordE, right=7pt of mAspE] {Asparagales};
  \node[mkE=6pt] (mApia) at (468,600) {};
  \node[ordE, right=5pt of mApia] {Apiales};
  \node[mkE=18pt] (mEric) at (525,613) {};
  \node[ordE, right=7pt of mEric] {Ericales};
  \node[mkE=6pt] (mCorn) at (383,628) {};
  \node[ordE, right=6pt of mCorn] {Cornales};
  \node[mkE=28pt] (mCary) at (573,644) {};
  \node[ordE, right=7pt of mCary] {Caryophyllales};
  \node[mkE=6pt] (mProt) at (296,662) {};
  \node[ordE, right=4pt of mProt] {Proteales};
  \node[mkE=6pt] (mRanu) at (296,673) {};
  \node[ordE, right=4pt of mRanu] {Ranunculales};

  % order markers, monocots
  \node[mkM=150pt] (mPoal) at (829,765) {};
  \node[ordM, right=7pt of mPoal] {Poales};
  \node[mkM=21pt] (mZing) at (489,854) {};
  \node[ordM, right=7pt of mZing] {Zingiberales};
  \node[mkM=18pt] (mArec) at (429,867) {};
  \node[ordM, right=7pt of mArec] {Arecales};
  \node[mkM=16pt] (mAspM) at (610,876) {};
  \node[ordM, right=7pt of mAspM] {Asparagales};
  \node[mkM=6pt] (mPand) at (316,885) {};
  \node[ordM, right=5pt of mPand] {Pandanales};
  \node[mkM=18pt] (mAlis) at (434,900) {};
  \node[ordM, right=7pt of mAlis] {Alismatales};

  % major groups
  \node[mkE=662pt, minimum width=11pt] (eudBar) at (1079,339) {};
  \node[text=phPurple, inner sep=0pt, rotate=-90,
        font=\fontsize{44}{44}\selectfont\bfseries] (eudTxt) at (1108,368) {Eudicots};
  \node[mkM=224pt, minimum width=11pt] (monBar) at (1079,798) {};
  \node[text=phOrange, inner sep=0pt, rotate=-90,
        font=\fontsize{44}{44}\selectfont\bfseries] (monTxt) at (1108,786) {Monocots};

  \coordinate (ceraDot) at (237,680);
  \node[bigtxt, text=phNavy] (ceraTxt) at (406,689) {\scalebox{0.9}[1]{Ceratophyllales}};
  \draw[dotcon, phNavy] (ceraDot) -- (ceraTxt.west);
  \node[rectangle, fill=phGreen, inner sep=0pt, minimum width=5pt,
        minimum height=10pt] (magMk) at (267,690) {};
  \node[bigtxt, text=phGreen, font=\fontsize{34}{34}\selectfont\bfseries] (magTxt) at (324,718) {\scalebox{0.93}[1]{Magnoliids}};
  \draw[dotcon, phGreen] (magMk.south east) -- (magTxt.west);
  \node[rectangle, fill=phRed, inner sep=0pt, minimum width=5pt,
        minimum height=9pt] (basMk) at (200,911) {};
  \node[bigtxt, text=phRed, font=\fontsize{42}{42}\selectfont\bfseries] (basTxt) at (257,937) {\scalebox{0.93}[1]{Basal angiosperms}};
  \draw[dotcon, phRed] (basMk.south east) -- (basTxt.west);
\end{tikzpicture}
\end{document}
